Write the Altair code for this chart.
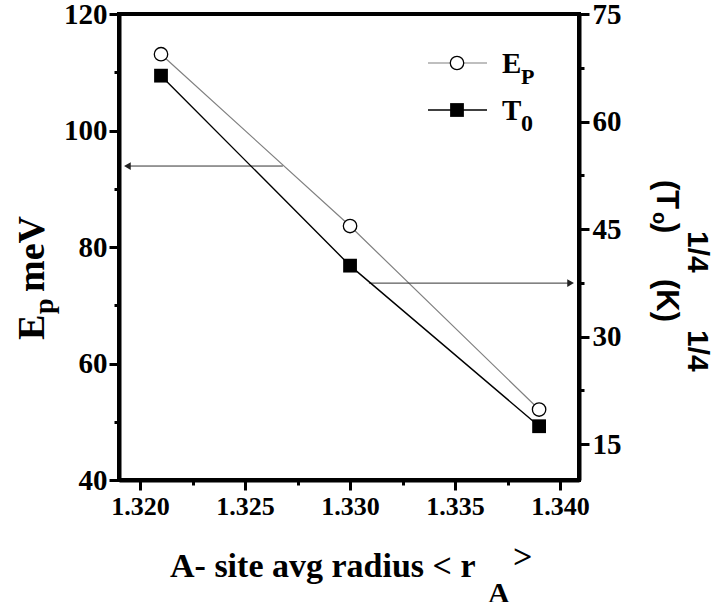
import altair as alt
import pandas as pd

# ---- data ----
radius = [1.321, 1.330, 1.339]
ep_mev = [113.1, 83.6, 52.1]
t0_quarter = [66.4, 39.9, 17.5]

x_major = [1.320, 1.325, 1.330, 1.335, 1.340]
x_minor = [1.3225, 1.3275, 1.3325, 1.3375]
left_major = [40, 60, 80, 100, 120]
left_minor = [50, 70, 90, 110]
right_major = [15, 30, 45, 60, 75]
right_minor = [22.5, 37.5, 52.5, 67.5]

# arrows (x start, x end, y in Ep units)
arrow_left = {"x1": 1.3268, "x2": 1.3194, "y": 93.9}
arrow_right = {"x1": 1.3309, "x2": 1.3405, "y": 73.8}

X_DOMAIN = [1.319, 1.3409]
LEFT_DOMAIN = [40, 120]
RIGHT_DOMAIN = [10, 75]

SERIF = "Liberation Serif"
SANS = "Liberation Sans"
PL, PT = 119, 14  # plot-area origin in page pixels

df = pd.DataFrame({"r": radius, "Ep": ep_mev, "T0": t0_quarter})

xscale = alt.Scale(domain=X_DOMAIN, nice=False, zero=False)
xaxis = alt.Axis(
    values=sorted(x_major + x_minor), format=".3f",
    labelExpr="abs(datum.value*200 - round(datum.value*200)) < 0.001 ? datum.label : ''",
    tickSize={"condition": {"test": "abs(datum.value*200 - round(datum.value*200)) < 0.001", "value": 10}, "value": 5},
    title=None, grid=False, domainWidth=4, domainColor="black", tickWidth=3, tickColor="black",
    labelFont=SERIF, labelFontSize=26, labelFontWeight=700, labelColor="black",
    labelPadding=3, labelOverlap=False, labelFlush=False,
)

left_axis = alt.Axis(
    orient="left", values=sorted(left_major + left_minor),
    labelExpr="datum.value % 20 == 0 ? datum.label : ''",
    tickSize={"condition": {"test": "datum.value % 20 == 0", "value": 10}, "value": 5},
    title=None, grid=False, domainWidth=4, domainColor="black", tickWidth=3, tickColor="black",
    labelFont=SERIF, labelFontSize=29, labelFontWeight=700, labelColor="black",
    labelPadding=2, labelOverlap=False, labelFlush=False,
)

right_axis = alt.Axis(
    orient="right", values=sorted(right_major + right_minor),
    labelExpr="datum.value % 15 == 0 ? datum.label : ''",
    tickSize={"condition": {"test": "datum.value % 15 == 0", "value": 10}, "value": 5},
    title=None, grid=False, domainWidth=4, domainColor="black", tickWidth=3, tickColor="black",
    labelFont=SERIF, labelFontSize=29, labelFontWeight=700, labelColor="black",
    labelPadding=3, labelOverlap=False, labelFlush=False,
)

base = alt.Chart(df)
ep_y = alt.Y("Ep:Q", scale=alt.Scale(domain=LEFT_DOMAIN, nice=False, zero=False), axis=left_axis)
t0_y = alt.Y("T0:Q", scale=alt.Scale(domain=RIGHT_DOMAIN, nice=False, zero=False), axis=right_axis)
x_enc = alt.X("r:Q", scale=xscale, axis=xaxis)

ep_line = base.mark_line(color="#808080", strokeWidth=1.2).encode(x=x_enc, y=ep_y)
ep_pts = base.mark_point(shape="circle", size=180, filled=False, fill="white", fillOpacity=1,
                         stroke="black", strokeWidth=1.3, opacity=1).encode(x="r:Q", y="Ep:Q")

adf = pd.DataFrame({
    "x1": [arrow_left["x1"], arrow_right["x1"]],
    "x2": [arrow_left["x2"], arrow_right["x2"]],
    "y": [arrow_left["y"], arrow_right["y"]],
    "shape": ["triangle-left", "triangle-right"],
})
arrow_lines = alt.Chart(adf).mark_rule(color="#333333", strokeWidth=1).encode(x="x1:Q", x2="x2", y="y:Q")
arrow_heads = alt.Chart(adf).mark_point(filled=True, color="#222222", size=60, opacity=1).encode(
    x="x2:Q", y="y:Q", shape=alt.Shape("shape:N", scale=None, legend=None))

left_layer = alt.layer(ep_line, arrow_lines, arrow_heads, ep_pts)

t0_line = base.mark_line(color="black", strokeWidth=1.4).encode(x=x_enc, y=t0_y)
t0_pts = base.mark_point(shape="square", size=190, filled=True, color="black", opacity=1).encode(x="r:Q", y="T0:Q")
right_layer = alt.layer(t0_line, t0_pts)


def txt(s, x, y, size, font=SERIF, angle=0, align="left", baseline="alphabetic", weight="bold"):
    return alt.Chart(pd.DataFrame({"s": [s]})).mark_text(
        font=font, fontSize=size, fontWeight=weight, angle=angle, align=align,
        baseline=baseline, color="black",
    ).encode(x=alt.value(x - PL), y=alt.value(y - PT), text="s:N")


def hline(x1, x2, y, color, width):
    return alt.Chart(pd.DataFrame({"a": [0]})).mark_rule(color=color, strokeWidth=width).encode(
        x=alt.value(x1 - PL), x2=alt.value(x2 - PL), y=alt.value(y - PT))


def marker(x, y, shape, size, filled):
    props = dict(shape=shape, size=size, opacity=1)
    if filled:
        props.update(filled=True, color="black")
    else:
        props.update(filled=False, fill="white", fillOpacity=1, stroke="black", strokeWidth=1.3)
    return alt.Chart(pd.DataFrame({"a": [0]})).mark_point(**props).encode(
        x=alt.value(x - PL), y=alt.value(y - PT))


texts = [
    # legend
    hline(428, 487, 63, "#808080", 1.2), marker(457, 63, "circle", 180, False),
    txt("E", 502, 73, 29), txt("P", 521, 84, 22),
    hline(428, 487, 110, "black", 1.4), marker(457, 110, "square", 190, True),
    txt("T", 502, 120, 29), txt("0", 521, 131, 24),
    # x title
    txt("A- site avg radius < r", 170, 577, 34), txt(">", 513, 568, 34),
    txt("A", 488, 603, 30),
    # left title (reads bottom to top)
    txt("E", 44, 340, 38, angle=270), txt("p", 53, 314, 28, angle=270),
    txt("meV", 44, 292, 38, angle=270),
    # right title (reads top to bottom)
    txt("(T", 657, 180, 31, font=SANS, angle=90), txt("o", 653, 212, 20, font=SANS, angle=90),
    txt(")", 657, 223, 31, font=SANS, angle=90), txt("1/4", 688, 231, 30, font=SANS, angle=90),
    txt("(K)", 657, 279, 31, font=SANS, angle=90), txt("1/4", 688, 330, 30, font=SANS, angle=90),
]

chart = alt.layer(left_layer, right_layer, *texts).resolve_scale(y="independent").properties(
    width=460, height=466,
    padding={"left": PL, "top": PT, "right": 714 - PL - 460, "bottom": 602 - PT - 466},
    autosize=alt.AutoSizeParams(type="none"),
    background="white",
).configure_view(stroke="black", strokeWidth=4)

chart.save("out.html", embed_options={"renderer": "svg", "actions": False})
